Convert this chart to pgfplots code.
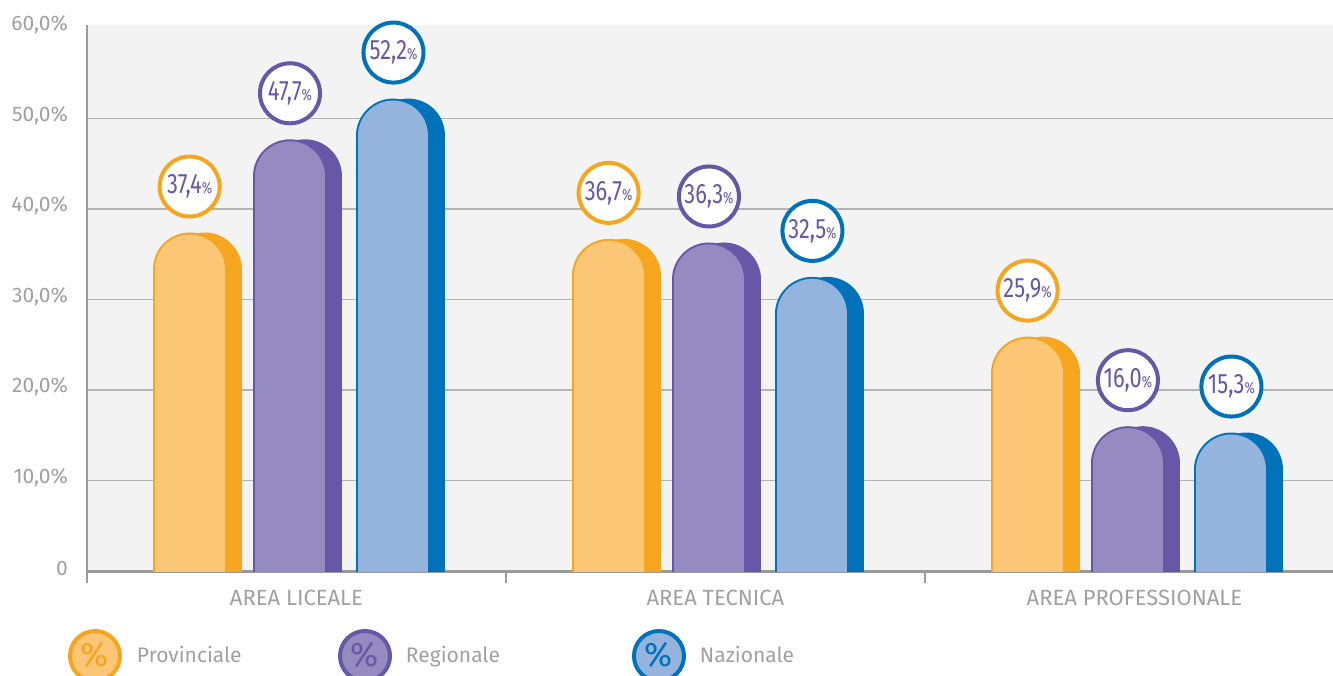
\documentclass[border=0pt]{standalone}
\usepackage{pgfplots}
\pgfplotsset{compat=1.18}
\usepackage{pgfplotstable}
\usepackage{fontspec}
\setmainfont{Fira Sans}
\newfontfamily\labfont{Fira Sans}[FakeStretch=0.78]

\definecolor{provL}{HTML}{FBC676}
\definecolor{provD}{HTML}{F5A61E}
\definecolor{regL}{HTML}{958BC0}
\definecolor{regD}{HTML}{6658A6}
\definecolor{nazL}{HTML}{95B4DD}
\definecolor{nazD}{HTML}{0072BA}
\definecolor{bg}{HTML}{F3F3F3}
\definecolor{gridc}{HTML}{B4B4B4}
\definecolor{axisc}{HTML}{9A9A9A}
\definecolor{tickc}{HTML}{A0A0A0}
\definecolor{labc}{HTML}{6658A6}

\pgfplotstableread{
g  prov  reg   naz
0  37.4  47.7  52.2
1  36.7  36.3  32.5
2  25.9  16.0  15.3
}\datatable

% 1 y unit = 4.525pt, so the bar radius 18.5pt = 4.088 units
\newcommand\rad{4.088}
% shadow offset 7.5pt in x units (1 unit = 209.5pt)
\newcommand\shd{0.0358}

\pgfplotsset{
  bar layer/.style={ycomb, no markers, line cap=round, line width=#1, forget plot},
  pct label/.style={
    point meta=explicit,
    nodes near coords={\pgfmathprintnumber[fixed,fixed zerofill,precision=1,use comma,assume math mode=true]{\pgfplotspointmeta}{\fontsize{8}{8}\selectfont\%}},
    every node near coord/.append style={circle, draw=#1, line width=2pt, fill=white,
      minimum size=30pt, inner sep=0pt, yshift=25.5pt, text=labc,
      font=\labfont\fontsize{14}{14}\selectfont},
  },
  pct legend/.style 2 args={legend image code/.code={
      \path[draw=none, fill=none] (0pt,-13.5pt) rectangle (27pt,13.5pt);
      \draw[draw=#2, fill=#1, line width=2pt] (13.5pt,0pt) circle (12.5pt);
      \node[text=#2, inner sep=0pt, font=\fontsize{17}{17}\selectfont] at (13.5pt,0pt) {\%};
  }},
}

\begin{document}
\begin{tikzpicture}
\begin{axis}[
  name=ax,
  scale only axis,
  width=623pt, height=272.86pt,
  xmin=-0.5, xmax=2.474,
  ymin=0, ymax=60.3,
  axis background/.style={fill=bg},
  axis lines*=left,
  axis line style={draw=axisc, -},
  x axis line style={line width=1.5pt},
  y axis line style={line width=1pt},
  ytick={0,10,20,30,40,50},
  yticklabels={0,10{,}0\%,20{,}0\%,30{,}0\%,40{,}0\%,50{,}0\%},
  extra y ticks={60},
  extra y tick labels={60{,}0\%},
  extra y tick style={grid=none},
  ymajorgrids,
  grid style={draw=gridc, line width=0.75pt},
  ytick style={draw=none},
  y tick label style={text=tickc, font=\fontsize{10.5}{12}\selectfont, yshift=1.5pt},
  xtick={-0.5,0.5,1.5},
  xticklabels={,,},
  xtick style={draw=axisc, line width=1pt},
  tick align=outside,
  major tick length=6pt,
  extra x ticks={0,1,2},
  extra x tick labels={AREA LICEALE, AREA TECNICA, AREA PROFESSIONALE},
  extra x tick style={major tick length=0pt, grid=none},
  x tick label style={text=tickc, font=\fontsize{11}{12}\selectfont, yshift=-6pt},
  legend columns=-1,
  legend style={draw=none, fill=none, inner sep=0pt, outer sep=0pt,
    at={(0,0)}, anchor=west, xshift=-9.5pt, yshift=-42.5pt,
    /tikz/column sep=0pt,
    nodes={inner sep=0pt, text=tickc, font=\fontsize{10.5}{12}\selectfont}},
]
% Provinciale
\addplot[bar layer=37pt, provD] table[x expr=\thisrow{g}-0.255+\shd, y expr=\thisrow{prov}-\rad] {\datatable};
\addplot[bar layer=37pt, provD] table[x expr=\thisrow{g}-0.255, y expr=\thisrow{prov}-\rad] {\datatable};
\addplot[bar layer=35pt, provL, pct label=provD] table[x expr=\thisrow{g}-0.255, y expr=\thisrow{prov}-\rad, meta=prov] {\datatable};
% Regionale
\addplot[bar layer=37pt, regD] table[x expr=\thisrow{g}-0.0155+\shd, y expr=\thisrow{reg}-\rad] {\datatable};
\addplot[bar layer=37pt, regD] table[x expr=\thisrow{g}-0.0155, y expr=\thisrow{reg}-\rad] {\datatable};
\addplot[bar layer=35pt, regL, pct label=regD] table[x expr=\thisrow{g}-0.0155, y expr=\thisrow{reg}-\rad, meta=reg] {\datatable};
% Nazionale
\addplot[bar layer=37pt, nazD] table[x expr=\thisrow{g}+0.2315+\shd, y expr=\thisrow{naz}-\rad] {\datatable};
\addplot[bar layer=37pt, nazD] table[x expr=\thisrow{g}+0.2315, y expr=\thisrow{naz}-\rad] {\datatable};
\addplot[bar layer=35pt, nazL, pct label=nazD] table[x expr=\thisrow{g}+0.2315, y expr=\thisrow{naz}-\rad, meta=naz] {\datatable};

\addlegendimage{pct legend={provL}{provD}}
\addlegendentry{\hspace*{7.5pt}\makebox[100.5pt][l]{Provinciale}}
\addlegendimage{pct legend={regL}{regD}}
\addlegendentry{\hspace*{7pt}\makebox[113pt][l]{Regionale}}
\addlegendimage{pct legend={nazL}{nazD}}
\addlegendentry{\hspace*{7pt}Nazionale}
\end{axis}
\pgfresetboundingbox
\path[use as bounding box] ([xshift=-43.5pt,yshift=-52pt]ax.south west) rectangle ++(666.5pt,337.5pt);
\end{tikzpicture}
\end{document}
